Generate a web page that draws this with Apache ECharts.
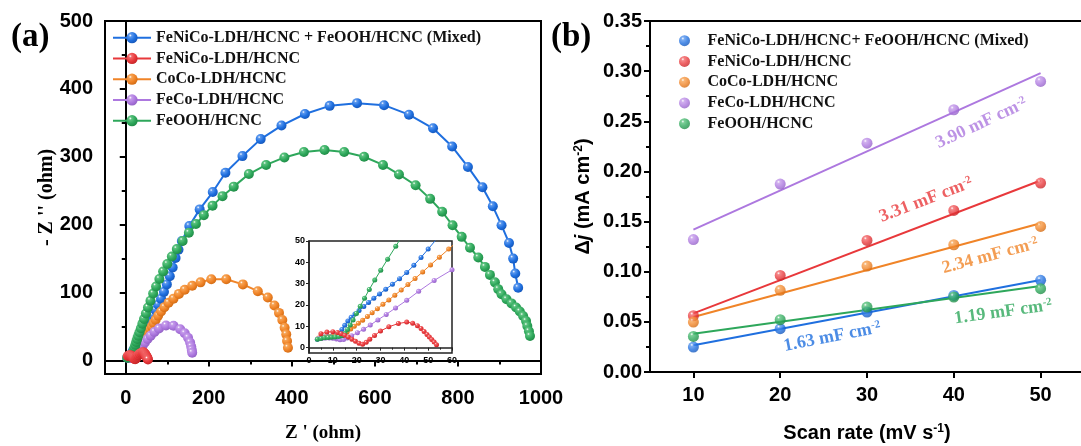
<!DOCTYPE html>
<html>
<head>
<meta charset="utf-8">
<script src="https://cdn.jsdelivr.net/npm/echarts@6/dist/echarts.min.js"></script>
<style>
  html, body { margin: 0; padding: 0; background: #fff; }
  #chart { width: 1081px; height: 446px; }
</style>
</head>
<body>
<div id="chart"></div>
<script>
// ---------- data ----------
const sampleNames = ['FeNiCo-LDH/HCNC + FeOOH/HCNC (Mixed)', 'FeNiCo-LDH/HCNC', 'CoCo-LDH/HCNC', 'FeCo-LDH/HCNC', 'FeOOH/HCNC'];
const sampleNamesB = ['FeNiCo-LDH/HCNC+ FeOOH/HCNC (Mixed)', 'FeNiCo-LDH/HCNC', 'CoCo-LDH/HCNC', 'FeCo-LDH/HCNC', 'FeOOH/HCNC'];

// Nyquist plots, Z' vs -Z'' (ohm)
const nyqMixed = [[3.5,4],[5,4.5],[6.5,5],[8,5.2],[9.5,5.3],[11,5.6],[12.5,6.6],[13.8,8.5],[15,10.5],[16.3,12.5],[17.7,14.2],[19.3,15.8],[21,17.4],[23,19.3],[25,21.2],[27.2,23.2],[29.6,25.2],[32.2,27.4],[35,29.7],[38,32.3],[41,35.2],[44,38.6],[47,42.3],[50,46.2],[53,50.2],
  [57,55],[61,60],[66,66],[72,74],[78,82],[85,91],[92,101],[99,112],[106,124],[113,137],[120,151],[127,163],[135,176],[153,198],[178,222.5],[209.5,248],[240,276.5],[281,301],[325,326],[375,346],[431.5,363],[491,375],[557,379],[622,376],[682,362],[740,342],[786,315],[824,285],[859,255],[884,227],[905,199],[923,173],[933,150],[938,128],[945,107]];
const nyqFeNiCo = [[5,6.5],[7.5,7.3],[10,7.5],[12,7.1],[13.5,6.5],[15,5.8],[16.5,5],[18,4],[19.5,3],[21,2.1],[22.5,1.6],[24,2.5],[25.5,4],[27.5,5.7],[30,7.8],[33.5,9.8],[37.5,11.3],[41,12],[43.5,11.5],[45.5,10.3],[47,9],[48.3,7.6],[49.5,6.2],[50.5,5],[51.5,3.8],[52.5,2.6],[53.5,1.4]];
const nyqCoCo = [[4,4.5],[5.5,4.7],[7,5],[8.5,5.1],[10,5.2],[11.5,5.3],[13,5.6],[14.5,6.3],[16,7.4],[17.5,8.7],[19,10],[20.7,11.4],[22.5,12.9],[24.5,14.6],[26.5,16.4],[28.7,18.3],[31,20.3],[33.5,22.4],[36,24.6],[38.7,27],[41.5,29.6],[44.5,32.4],[47.7,35.5],[51,38.8],[54.7,42.4],[58.6,46.2],[62.7,50.2],
  [67,55],[72,60],[78,66],[85,72],[93,78.5],[103,85],[115,91],[128,98],[142,104],[160,110],[180,115],[206,119.5],[242,119.5],[282,112],[318,102],[342,92.6],[358,81],[369,70],[377,59.5],[382.6,48],[386.5,38.4],[388.5,28.5],[390.6,18.7]];
const nyqFeCo = [[4,4.3],[5.5,4.4],[7,4.5],[8.5,4.5],[10,4.4],[11.5,4.1],[13,3.7],[14.5,3.8],[16,4.5],[17.9,5.6],[20.3,7],[22.9,8.6],[25.7,10.6],[28.9,13],[32.4,15.6],[36.3,18.6],[41,22.2],[46,26.4],[52.5,31.5],[60,36.5],[69,42],[80,47],[97,51.5],[115,51],[131,46],[142,40],[150,33.4],[155,26.5],[157.5,20.5],[159,15.5],[160,11.3]];
const nyqFeOOH = [[3.5,4],[5,4.3],[6.5,4.6],[8,4.8],[9.5,4.9],[11,5],[12.5,5.2],[13.9,5.6],[15.1,6.8],[16.2,8.5],[17.3,10.6],[18.5,13],[19.9,16],[21.5,19.4],[23.3,23.2],[25.3,27.3],[27.6,31.7],[30.1,36.3],[33,41.5],[36.4,47.5],
  [40,54],[44,61],[48.5,69],[53.5,78],[59.5,88],[66,98.5],[73,109],[81,120],[90,131],[100,142],[111,153],[123,164],[137,176],[152,188],[169,201],[188,214],[209,228],[233,242],[260,256],[296.5,274.6],[338,288],[382,299],[429,307],[478.7,310],[526,307],[574,300],[619.5,288],[658,274],[698,258],[733,238],[762,219],[787,199],[809,182],[829,166],[849,151.6],[865,137.8],[877,126],[889,115],[897,105],[905,97.5],[917,90],[929,84],[940,78],[949,72],[957,65.4],[964,58],[967,50.7],[971,43],[973.5,36]];

// Cdl plots, scan rate (mV/s) vs delta j (mA/cm2)
const scanRate = [10, 20, 30, 40, 50];
const djMixed = [0.0249, 0.0432, 0.0598, 0.0764, 0.0914];
const djFeNiCo = [0.0561, 0.0963, 0.1312, 0.1611, 0.1884];
const djCoCo = [0.0498, 0.0814, 0.1056, 0.1269, 0.1452];
const djFeCo = [0.1320, 0.1874, 0.2282, 0.2615, 0.2897];
const djFeOOH = [0.0355, 0.0522, 0.0648, 0.0748, 0.0831];

// fitted lines, values at 10 and 50 mV/s
const fitRate = [10, 50];
const fitMixed = [0.0266, 0.0918];
const fitFeNiCo = [0.0585, 0.1909];
const fitCoCo = [0.0548, 0.1484];
const fitFeCo = [0.1420, 0.2980];
const fitFeOOH = [0.0382, 0.0858];

// Cdl labels and where they sit
const cdlValues = ['1.63', '3.31', '2.34', '3.90', '1.19'];
const cdlAt = [[26, 0.035], [36.8, 0.1715], [44.2, 0.1157], [43.2, 0.248], [45.7, 0.0598]];
const cdlAngle = [11, 21, 15, 25, 8];

// ---------- style ----------
const SANS = 'Liberation Sans, Arial, sans-serif';
const SERIF = 'Liberation Serif, Times New Roman, serif';
const colors = [
  {base: '#1f6fdf', light: '#5b98ee', dark: '#1556b8'},
  {base: '#e8383b', light: '#f2696b', dark: '#c42427'},
  {base: '#f08428', light: '#f6a455', dark: '#d06a12'},
  {base: '#ad78df', light: '#c59cea', dark: '#9160c4'},
  {base: '#2ea75b', light: '#5cc37f', dark: '#1f8a45'}
];
function ball(i) {
  return new echarts.graphic.RadialGradient(0.35, 0.3, 0.75, [
    {offset: 0, color: '#ffffff'},
    {offset: 0.18, color: colors[i].light},
    {offset: 0.6, color: colors[i].base},
    {offset: 1, color: colors[i].dark}
  ]);
}

const nyqData = [nyqMixed, nyqFeNiCo, nyqCoCo, nyqFeCo, nyqFeOOH];
const djData = [djMixed, djFeNiCo, djCoCo, djFeCo, djFeOOH];
const fitData = [fitMixed, fitFeNiCo, fitCoCo, fitFeCo, fitFeOOH];
const zOrder = [2, 6, 3, 4, 5];

const tickLabel = {fontFamily: SANS, fontWeight: 'bold', fontSize: 20, color: '#000'};
const blackLine = {color: '#000', width: 2};
const plain = function (v) { return String(v); };

const series = [];
// panel a, main
nyqData.forEach(function (d, i) {
  series.push({
    name: sampleNames[i], type: 'line', xAxisIndex: 0, yAxisIndex: 0,
    data: d, symbol: 'circle', symbolSize: 10, z: zOrder[i],
    lineStyle: {color: colors[i].base, width: 2},
    itemStyle: {color: ball(i)},
    emphasis: {disabled: true}
  });
});
// panel a, inset
nyqData.forEach(function (d, i) {
  series.push({
    name: sampleNames[i], type: 'line', xAxisIndex: 2, yAxisIndex: 2,
    data: d, symbol: 'circle', symbolSize: 5, z: zOrder[i] + 10,
    lineStyle: {color: colors[i].base, width: 1},
    itemStyle: {color: ball(i)},
    emphasis: {disabled: true}
  });
});
// panel b
djData.forEach(function (d, i) {
  series.push({
    name: 'fit' + i, type: 'line', xAxisIndex: 3, yAxisIndex: 3,
    data: fitRate.map(function (x, k) { return [x, fitData[i][k]]; }),
    symbol: 'none', z: 3,
    lineStyle: {color: colors[i].base, width: 2},
    emphasis: {disabled: true}
  });
  series.push({
    name: 'b:' + sampleNamesB[i], type: 'scatter', xAxisIndex: 3, yAxisIndex: 3,
    data: scanRate.map(function (x, k) { return [x, d[k]]; }),
    symbol: 'circle', symbolSize: 11, z: 4,
    itemStyle: {color: ball(i)},
    emphasis: {disabled: true}
  });
});
series.push({
  name: 'cdl', type: 'scatter', xAxisIndex: 3, yAxisIndex: 3, symbolSize: 1, z: 6,
  itemStyle: {color: 'rgba(0,0,0,0)'},
  silent: true,
  data: cdlValues.map(function (v, i) {
    return {
      value: cdlAt[i],
      label: {
        show: true, position: 'inside', rotate: cdlAngle[i],
        formatter: '{t|' + v + ' mF cm}{s|-2}',
        rich: {
          t: {fontFamily: SERIF, fontWeight: 'bold', fontSize: 18, color: colors[i].base},
          s: {fontFamily: SERIF, fontWeight: 'bold', fontSize: 11, color: colors[i].base, verticalAlign: 'top'}
        }
      }
    };
  })
});

const option = {
  animation: false,
  backgroundColor: '#fff',
  title: [
    {text: '(a)', left: 11, top: 21, padding: 0, textStyle: {fontFamily: SERIF, fontWeight: 'bold', fontSize: 33, color: '#000'}},
    {text: '(b)', left: 551, top: 21, padding: 0, textStyle: {fontFamily: SERIF, fontWeight: 'bold', fontSize: 33, color: '#000'}}
  ],
  legend: [
    {
      data: sampleNames, orient: 'vertical', left: 112, top: 28.7, padding: 0,
      itemWidth: 38, itemHeight: 14, itemGap: 2.75, selectedMode: false,
      textStyle: {fontFamily: SERIF, fontWeight: 'bold', fontSize: 16, color: '#111', lineHeight: 18}
    },
    {
      data: sampleNamesB.map(function (n) { return {name: 'b:' + n, icon: 'circle'}; }),
      formatter: function (n) { return n.slice(2); },
      orient: 'vertical', left: 679, top: 31.7, padding: 0,
      itemWidth: 36, itemHeight: 11, itemGap: 2.75, selectedMode: false,
      textStyle: {fontFamily: SERIF, fontWeight: 'bold', fontSize: 16, color: '#111', lineHeight: 18}
    }
  ],
  grid: [
    {left: 105, top: 21, width: 436, height: 353, show: true, borderColor: '#000', borderWidth: 2, outerBoundsMode: 'none'},
    {left: 309, top: 241, width: 143, height: 112, show: true, borderColor: '#222', borderWidth: 1.5, backgroundColor: '#fff', outerBoundsMode: 'none'},
    {left: 650, top: 21, width: 434, height: 351, show: true, borderColor: '#000', borderWidth: 2, outerBoundsMode: 'none'}
  ],
  xAxis: [
    {
      gridIndex: 0, type: 'value', min: -50, max: 1000, position: 'bottom',
      axisLine: {lineStyle: blackLine},
      axisTick: {customValues: [0, 200, 400, 600, 800, 1000], length: 6, lineStyle: blackLine},
      axisLabel: Object.assign({customValues: [0, 200, 400, 600, 800, 1000], margin: 14, formatter: plain}, tickLabel),
      splitLine: {show: false},
      name: "Z ' (ohm)", nameLocation: 'middle', nameGap: 50, nameMoveOverlap: false,
      nameTextStyle: {fontFamily: SERIF, fontWeight: 'bold', fontSize: 19, color: '#000'}
    },
    {
      gridIndex: 0, type: 'value', min: -50, max: 1000, position: 'bottom',
      axisLine: {show: false},
      axisTick: {customValues: [100, 300, 500, 700, 900], length: 4, lineStyle: blackLine},
      axisLabel: {show: false}, splitLine: {show: false}
    },
    {
      gridIndex: 1, type: 'value', min: 0, max: 60, interval: 10, position: 'bottom',
      axisLine: {lineStyle: {color: '#222', width: 1.5}},
      axisTick: {length: 3, lineStyle: {color: '#222', width: 1}},
      minorTick: {show: true, splitNumber: 2, length: 2, lineStyle: {color: '#222'}},
      axisLabel: {margin: 3, fontFamily: SANS, fontWeight: 'bold', fontSize: 9, color: '#000'},
      splitLine: {show: false}, minorSplitLine: {show: false}
    },
    {
      gridIndex: 2, type: 'value', min: 5, max: 55, position: 'bottom',
      axisLine: {lineStyle: blackLine},
      axisTick: {customValues: [10, 20, 30, 40, 50], length: 6, lineStyle: blackLine},
      axisLabel: Object.assign({customValues: [10, 20, 30, 40, 50], margin: 13}, tickLabel),
      splitLine: {show: false},
      name: '{a|Scan rate (mV s}{s|-1}{a|)}', nameLocation: 'middle', nameGap: 51, nameMoveOverlap: false,
      nameTextStyle: {rich: {
        a: {fontFamily: SANS, fontWeight: 'bold', fontSize: 20, color: '#000'},
        s: {fontFamily: SANS, fontWeight: 'bold', fontSize: 12, color: '#000', verticalAlign: 'top'}
      }}
    }
  ],
  yAxis: [
    {
      gridIndex: 0, type: 'value', min: -20, max: 500, position: 'left',
      axisLine: {lineStyle: blackLine},
      axisTick: {customValues: [0, 100, 200, 300, 400, 500], length: 6, lineStyle: blackLine},
      axisLabel: Object.assign({customValues: [0, 100, 200, 300, 400, 500], margin: 12, formatter: plain}, tickLabel),
      splitLine: {show: false},
      name: "- Z '' (ohm)", nameLocation: 'middle', nameGap: 48, nameMoveOverlap: false,
      nameTextStyle: {fontFamily: SERIF, fontWeight: 'bold', fontSize: 20, color: '#000'}
    },
    {
      gridIndex: 0, type: 'value', min: -20, max: 500, position: 'left',
      axisLine: {show: false},
      axisTick: {customValues: [50, 150, 250, 350, 450], length: 4, lineStyle: blackLine},
      axisLabel: {show: false}, splitLine: {show: false}
    },
    {
      gridIndex: 1, type: 'value', min: -2.5, max: 50, position: 'left',
      axisLine: {lineStyle: {color: '#222', width: 1.5}},
      axisTick: {customValues: [0, 10, 20, 30, 40, 50], length: 3, lineStyle: {color: '#222', width: 1}},
      axisLabel: {customValues: [0, 10, 20, 30, 40, 50], margin: 4, fontFamily: SANS, fontWeight: 'bold', fontSize: 9, color: '#000'},
      splitLine: {show: false}
    },
    {
      gridIndex: 2, type: 'value', min: 0, max: 0.35, interval: 0.05, position: 'left',
      axisLine: {lineStyle: blackLine},
      axisTick: {length: 6, lineStyle: blackLine},
      minorTick: {show: true, splitNumber: 2, length: 4, lineStyle: blackLine},
      axisLabel: Object.assign({margin: 8, formatter: function (v) { return v.toFixed(2); }}, tickLabel),
      splitLine: {show: false}, minorSplitLine: {show: false},
      name: '{a|Δ}{j|j}{a| (mA cm}{s|-2}{a|)}', nameLocation: 'middle', nameGap: 57, nameMoveOverlap: false,
      nameTextStyle: {rich: {
        a: {fontFamily: SANS, fontWeight: 'bold', fontSize: 20, color: '#000'},
        j: {fontFamily: SANS, fontWeight: 'bold', fontStyle: 'italic', fontSize: 20, color: '#000'},
        s: {fontFamily: SANS, fontWeight: 'bold', fontSize: 12, color: '#000', verticalAlign: 'top'}
      }}
    }
  ],
  series: series
};

const chart = echarts.init(document.getElementById('chart'));
chart.setOption(option);
</script>
</body>
</html>
